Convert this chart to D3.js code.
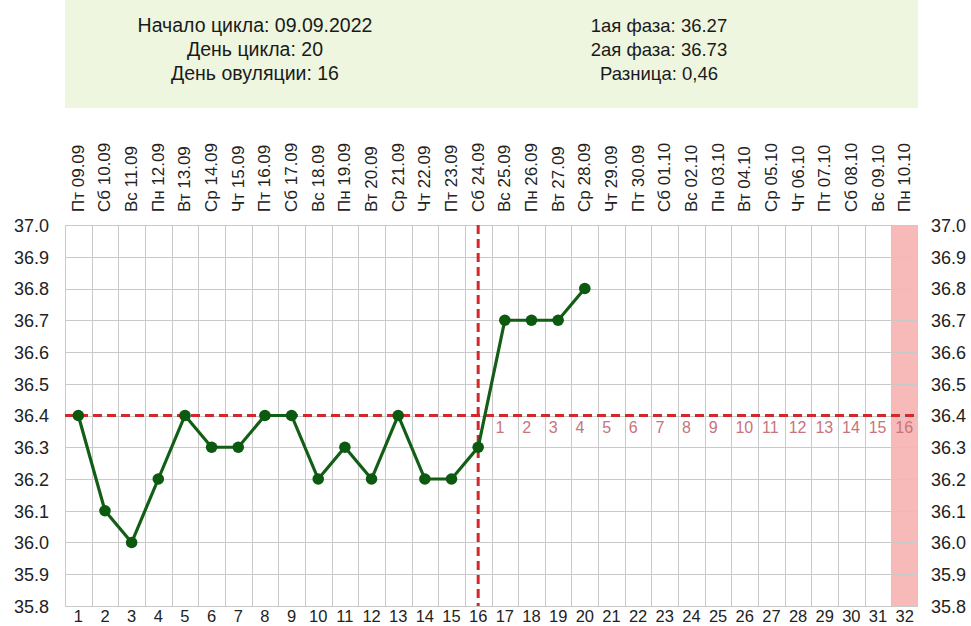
<!DOCTYPE html>
<html>
<head>
<meta charset="utf-8">
<script src="https://cdn.jsdelivr.net/npm/d3@7"></script>
<style>
  html, body { margin: 0; padding: 0; background: #ffffff; }
  svg { display: block; font-family: "Liberation Sans", Arial, sans-serif; }
</style>
</head>
<body>
<svg id="chart" width="971" height="626"></svg>
<script>
// ---- data ----
const days = [1,2,3,4,5,6,7,8,9,10,11,12,13,14,15,16,17,18,19,20,21,22,23,24,25,26,27,28,29,30,31,32];
const dateLabels = ["Пт 09.09","Сб 10.09","Вс 11.09","Пн 12.09","Вт 13.09","Ср 14.09","Чт 15.09","Пт 16.09",
  "Сб 17.09","Вс 18.09","Пн 19.09","Вт 20.09","Ср 21.09","Чт 22.09","Пт 23.09","Сб 24.09",
  "Вс 25.09","Пн 26.09","Вт 27.09","Ср 28.09","Чт 29.09","Пт 30.09","Сб 01.10","Вс 02.10",
  "Пн 03.10","Вт 04.10","Ср 05.10","Чт 06.10","Пт 07.10","Сб 08.10","Вс 09.10","Пн 10.10"];
const temps = [36.4,36.1,36.0,36.2,36.4,36.3,36.3,36.4,36.4,36.2,36.3,36.2,36.4,36.2,36.2,36.3,36.7,36.7,36.7,36.8];
const yTicks = [35.8,35.9,36.0,36.1,36.2,36.3,36.4,36.5,36.6,36.7,36.8,36.9,37.0];
const phaseDays = [17,18,19,20,21,22,23,24,25,26,27,28,29,30,31,32];
const phaseNumbers = [1,2,3,4,5,6,7,8,9,10,11,12,13,14,15,16];
const coverLine = 36.4;
const ovulationDay = 16;
const expectedDay = 32;
const infoLeft = ["Начало цикла: 09.09.2022","День цикла: 20","День овуляции: 16"];
const infoRight = ["1ая фаза: 36.27","2ая фаза: 36.73","Разница: 0,46"];

// ---- layout ----
const L = 65, R = 918, T = 225, B = 606;
const svg = d3.select("#chart");

const x = d3.scaleBand().domain(days).range([L, R]).padding(0);
const y = d3.scaleLinear().domain([35.8, 37.0]).range([B, T]);
const cx = d => x(d) + x.bandwidth() / 2;

// info box
svg.append("rect").attr("x", L).attr("y", 0).attr("width", R - L).attr("height", 108)
  .attr("fill", "#eef6df");
infoLeft.forEach((t, i) => svg.append("text").attr("x", 255).attr("y", 25 + i * 24)
  .attr("text-anchor", "middle").attr("dominant-baseline", "central")
  .attr("font-size", 19.5).attr("fill", "#1a1a1a").text(t));
infoRight.forEach((t, i) => svg.append("text").attr("x", 659).attr("y", 25 + i * 24)
  .attr("text-anchor", "middle").attr("dominant-baseline", "central")
  .attr("font-size", 18.5).attr("fill", "#1a1a1a").text(t));

// highlighted expected column
svg.append("rect").attr("x", x(expectedDay)).attr("y", T)
  .attr("width", x.bandwidth()).attr("height", B - T).attr("fill", "#f8b9b9");

// grid
const grid = svg.append("g").attr("stroke", "#c9c9c9").attr("stroke-width", 1);
grid.selectAll("line.h").data(yTicks).join("line").attr("class", "h")
  .attr("x1", L).attr("x2", R).attr("y1", d => Math.round(y(d)) + 0.5).attr("y2", d => Math.round(y(d)) + 0.5);
grid.selectAll("line.v").data(days).join("line").attr("class", "v")
  .attr("x1", d => Math.round(x(d)) + 0.5).attr("x2", d => Math.round(x(d)) + 0.5)
  .attr("y1", T).attr("y2", B);

// y axes
const yLeft = svg.append("g").attr("transform", `translate(${L - 16},0)`)
  .call(d3.axisLeft(y).tickValues(yTicks).tickFormat(d3.format(".1f")).tickSize(0).tickPadding(0));
const yRight = svg.append("g").attr("transform", `translate(${R + 13},0)`)
  .call(d3.axisRight(y).tickValues(yTicks).tickFormat(d3.format(".1f")).tickSize(0).tickPadding(0));
[yLeft, yRight].forEach(g => {
  g.select(".domain").remove();
  g.selectAll("text").attr("font-size", 18).attr("fill", "#222").attr("font-family", "Liberation Sans, Arial, sans-serif")
    .attr("dy", "0.36em");
});

// bottom axis
const xB = svg.append("g").attr("transform", `translate(0,${B})`)
  .call(d3.axisBottom(x).tickSize(0).tickPadding(0));
xB.select(".domain").remove();
xB.selectAll("text").attr("font-size", 16.5).attr("fill", "#222").attr("font-family", "Liberation Sans, Arial, sans-serif")
  .attr("dy", null).attr("y", 15.5);

// date labels (top)
svg.append("g").selectAll("text").data(days).join("text")
  .attr("transform", d => `translate(${cx(d)},212) rotate(-90)`)
  .attr("text-anchor", "start").attr("dominant-baseline", "central")
  .attr("font-size", 17).attr("fill", "#222")
  .text((d, i) => dateLabels[i]);

// phase numbers
svg.append("g").selectAll("text").data(phaseDays).join("text")
  .attr("x", d => x(d) + 4).attr("y", y(coverLine) + 12)
  .attr("dominant-baseline", "central")
  .attr("font-size", 16).attr("fill", "#c8737d")
  .text((d, i) => phaseNumbers[i]);

// cover line & ovulation line
svg.append("line").attr("x1", L).attr("x2", R).attr("y1", y(coverLine)).attr("y2", y(coverLine))
  .attr("stroke", "#d2282c").attr("stroke-width", 3).attr("stroke-dasharray", "9,5");
svg.append("line").attr("x1", cx(ovulationDay)).attr("x2", cx(ovulationDay)).attr("y1", T).attr("y2", B)
  .attr("stroke", "#d2282c").attr("stroke-width", 3).attr("stroke-dasharray", "9,5");

// temperature line
const pts = temps.map((v, i) => [days[i], v]);
svg.append("path").datum(pts)
  .attr("d", d3.line().x(d => cx(d[0])).y(d => y(d[1])))
  .attr("fill", "none").attr("stroke", "#135e16").attr("stroke-width", 3.2);
svg.append("g").selectAll("circle").data(pts).join("circle")
  .attr("cx", d => cx(d[0])).attr("cy", d => y(d[1])).attr("r", 5.8)
  .attr("fill", "#0c5a10");
</script>
</body>
</html>
